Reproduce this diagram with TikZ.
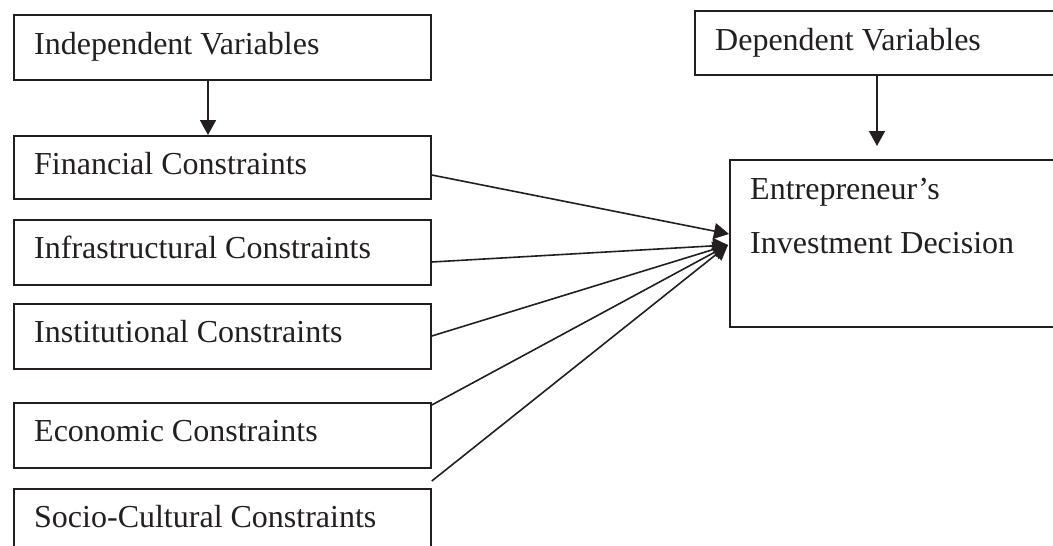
\documentclass[tikz,border=0pt]{standalone}
\usepackage{fontspec}
\setmainfont{Liberation Serif}
\usetikzlibrary{arrows.meta,calc}
\definecolor{ink}{HTML}{231F20}
\tikzset{
  plainbox/.style={draw=ink, line width=1.8pt, anchor=north west, inner sep=0pt, minimum width=417pt, minimum height=65pt},
  lbl/.style={anchor=base west, inner sep=0pt, font=\fontsize{32}{38}\selectfont, text=ink},
  conn/.style={draw=ink, line width=1.6pt, -{Triangle[length=15pt,width=16pt]}},
}
\begin{document}
\begin{tikzpicture}[x=1pt,y=-1pt]
\useasboundingbox (0,0) rectangle (1053,546);
\fill[white] (0,0) rectangle (1053,546);
% left column boxes
\node[plainbox] (indep) at (13,14) {};
\node[plainbox, minimum height=63pt] (fin) at (13,135) {};
\node[plainbox] (infra) at (13,219) {};
\node[plainbox] (inst) at (13,303) {};
\node[plainbox] (econ) at (13,402) {};
\node[plainbox, minimum height=100pt] (soc) at (13,488) {};
% left column texts
\node[lbl] (indept) at ($(indep.north west)+(21,40)$) {Independent Variables};
\node[lbl] (fint) at ($(fin.north west)+(21,39)$) {Financial Constraints};
\node[lbl] (infrat) at ($(infra.north west)+(21,39)$) {Infrastructural Constraints};
\node[lbl] (instt) at ($(inst.north west)+(21,39)$) {Institutional Constraints};
\node[lbl] (econt) at ($(econ.north west)+(21,39)$) {Economic Constraints};
\node[lbl] (soct) at ($(soc.north west)+(21,39)$) {Socio-Cultural Constraints};
% right column
\node[plainbox, minimum width=380pt, minimum height=64pt] (dep) at (694,10) {};
\node[lbl] (dept) at ($(dep.north west)+(21,40)$) {Dependent Variables};
\node[plainbox, minimum width=360pt, minimum height=167pt] (dec) at (729,159) {};
\node[lbl] (dec1) at ($(dec.north west)+(21,40)$) {Entrepreneur’s};
\node[lbl] (dec2) at ($(dec.north west)+(21,94)$) {Investment Decision};
% targets
\coordinate (t1) at ($(dec.north west)+(0,75)$);
\coordinate (t2) at ($(dec.north west)+(-1,86)$);
\coordinate (s5) at ($(soc.north east)+(0,-7)$);
% connectors
\draw[conn] ($(indep.south west)+(195,0)$) -- ($(fin.north west)+(195,0)$);
\draw[conn] ($(dep.south west)+(183,0)$) -- ($(dec.north west)+(148,-13)$);
\draw[conn] ($(fin.north east)+(0,40)$) -- (t1);
\draw[conn] ($(infra.north east)+(0,43)$) -- (t2);
\draw[conn] ($(inst.north east)+(0,33)$) -- (t2);
\draw[conn] ($(econ.north east)+(0,3)$) -- (t2);
\draw[conn] (s5) -- (t2);
\end{tikzpicture}
\end{document}
